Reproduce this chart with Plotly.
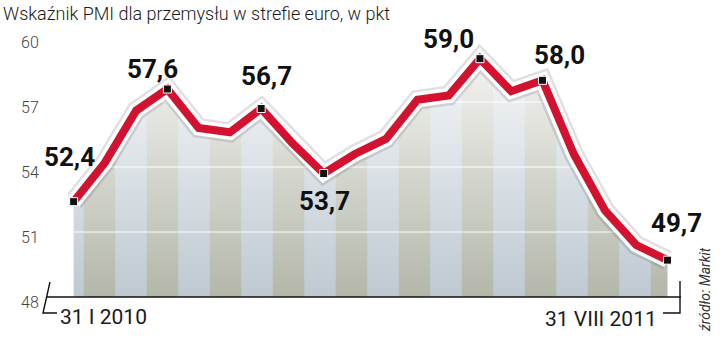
import plotly.graph_objects as go

# ---------------- data ----------------
months = ["I 2010", "II 2010", "III 2010", "IV 2010", "V 2010", "VI 2010",
          "VII 2010", "VIII 2010", "IX 2010", "X 2010", "XI 2010", "XII 2010",
          "I 2011", "II 2011", "III 2011", "IV 2011", "V 2011", "VI 2011",
          "VII 2011", "VIII 2011"]
pmi = [52.4, 54.2, 56.6, 57.6, 55.8, 55.6, 56.7, 55.1, 53.7, 54.6, 55.3, 57.1,
       57.3, 59.0, 57.5, 58.0, 54.6, 52.0, 50.4, 49.7]
labelled_months = ["I 2010", "IV 2010", "VII 2010", "IX 2010", "II 2011",
                   "IV 2011", "VIII 2011"]
y_ticks = [48, 51, 54, 57, 60]
title_text = "Wskaźnik PMI dla przemysłu w strefie euro, w pkt"
source_text = "źródło: Markit"
start_label = "31 I 2010"
end_label = "31 VIII 2011"

# ---------------- style ----------------
W, H = 720, 342
ML, MR, MT, MB = 68, 40, 37, 45
PW, PH = W - ML - MR, H - MT - MB
RED = "#d3122f"
TAN = "rgb(168,166,128)"
BLUE = "rgb(190,201,209)"
label_font = dict(family="Roboto, DejaVu Sans Condensed, sans-serif",
                  size=26, color="#111", weight="bold")
label_offsets = {  # (xshift, yshift) in px
    "I 2010": (-4, 45), "IV 2010": (-15, 20), "VII 2010": (5, 33),
    "IX 2010": (1, -27), "II 2011": (-31, 20), "IV 2011": (17, 25),
    "VIII 2011": (9, 37),
}


def px_x(p):  # pixel -> paper x
    return (p - ML) / PW


def px_y(p):  # pixel -> paper y
    return (H - MB - p) / PH


fig = go.Figure()

# striped area under the line
fig.add_trace(go.Scatter(
    x=months, y=pmi, mode="none", fill="tozeroy",
    fillpattern=dict(shape="|", bgcolor=BLUE, fgcolor=TAN, size=63, solidity=0.5),
    hoverinfo="skip", showlegend=False))
# fade to white towards the top
fig.add_trace(go.Scatter(
    x=months, y=pmi, mode="none", fill="tozeroy",
    fillgradient=dict(type="vertical",
                      colorscale=[[0, "rgba(255,255,255,0)"], [1, "rgba(255,255,255,0.92)"]],
                      start=y_ticks[0], stop=y_ticks[-1]),
    hoverinfo="skip", showlegend=False))
# white grid lines over the area
gx, gy = [], []
for t in y_ticks[1:-1]:
    gx += [months[0], months[-1], None]
    gy += [t, t, None]
fig.add_trace(go.Scatter(x=gx, y=gy, mode="lines", line=dict(color="white", width=1),
                         hoverinfo="skip", showlegend=False))
# line: shadow, white outline, red core
fig.add_trace(go.Scatter(x=months, y=pmi, mode="lines",
                         line=dict(color="rgba(60,60,60,0.16)", width=20),
                         hoverinfo="skip", showlegend=False))
fig.add_trace(go.Scatter(x=months, y=pmi, mode="lines",
                         line=dict(color="white", width=15),
                         hoverinfo="skip", showlegend=False))
fig.add_trace(go.Scatter(x=months, y=pmi, mode="lines",
                         line=dict(color=RED, width=8), showlegend=False))
# markers at labelled points
lab_y = [pmi[months.index(m)] for m in labelled_months]
fig.add_trace(go.Scatter(x=labelled_months, y=lab_y, mode="markers",
                         marker=dict(symbol="square", size=8, color="#111",
                                     line=dict(color="white", width=1)),
                         showlegend=False))

annotations = []
for m, v in zip(labelled_months, lab_y):
    dx, dy = label_offsets[m]
    annotations.append(dict(x=m, y=v, xref="x", yref="y", text=f"{v:.1f}".replace(".", ","),
                            showarrow=False, xshift=dx, yshift=dy, font=label_font,
                            xanchor="center", yanchor="middle"))

# y tick labels
for t in y_ticks:
    annotations.append(dict(x=px_x(41), y=t, xref="paper", yref="y", text=str(t),
                            showarrow=False, xanchor="right", yanchor="middle", yshift=-5,
                            font=dict(family="Roboto, Liberation Sans, sans-serif", size=16,
                                      color="#444", weight=300)))

axis_font = dict(family="Roboto, Liberation Sans, sans-serif", size=21, color="#1a1a1a")
annotations.append(dict(x=px_x(58), y=px_y(317), xref="paper", yref="paper", text=start_label,
                        showarrow=False, xanchor="left", yanchor="middle", font=axis_font))
annotations.append(dict(x=px_x(659), y=px_y(319), xref="paper", yref="paper", text=end_label,
                        showarrow=False, xanchor="right", yanchor="middle", font=axis_font))
annotations.append(dict(x=px_x(705), y=px_y(290), xref="paper", yref="paper", text=source_text,
                        showarrow=False, textangle=-90, xanchor="center", yanchor="middle",
                        font=dict(family="Roboto, Liberation Sans, sans-serif", size=14,
                                  color="#333", style="italic")))

shapes = [
    dict(type="line", xref="paper", yref="paper", x0=px_x(47), x1=px_x(681),
         y0=0, y1=0, line=dict(color="#111", width=1.6), layer="above"),
    dict(type="path", xref="paper", yref="paper",
         path=f"M {px_x(50)},{px_y(282)} L {px_x(43)},{px_y(313)} L {px_x(57)},{px_y(313)}",
         line=dict(color="#111", width=1.4), layer="above"),
    dict(type="path", xref="paper", yref="paper",
         path=f"M {px_x(680)},{px_y(281)} L {px_x(680)},{px_y(313)} L {px_x(663)},{px_y(313)}",
         line=dict(color="#111", width=1.4), layer="above"),
]

fig.update_layout(
    width=W, height=H, margin=dict(l=ML, r=MR, t=MT, b=MB),
    paper_bgcolor="white", plot_bgcolor="white",
    title=dict(text=title_text, x=3 / W, xanchor="left", xref="container",
               y=1 - 14 / H, yanchor="middle", yref="container",
               font=dict(family="Roboto, Liberation Sans, sans-serif", size=18,
                         color="#1a1a1a", weight=300)),
    xaxis=dict(range=[-0.18, 19.4], showgrid=False, showticklabels=False,
               zeroline=False, showline=False, fixedrange=True),
    yaxis=dict(range=[y_ticks[0], y_ticks[-1]], showgrid=False, showticklabels=False,
               zeroline=False, showline=False, ticks=""),
    annotations=annotations, shapes=shapes, showlegend=False,
)

fig.write_html("out.html")
